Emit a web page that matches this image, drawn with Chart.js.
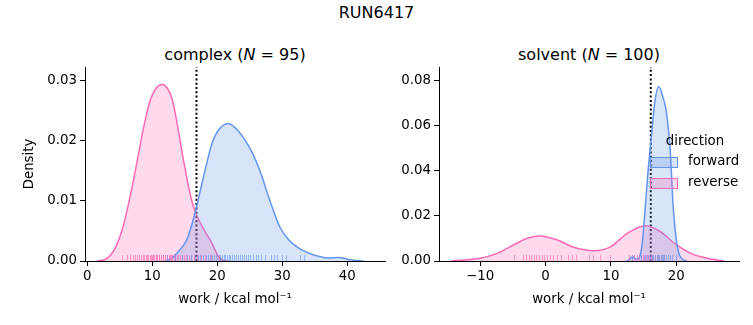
<!DOCTYPE html>
<html>
<head>
<meta charset="utf-8">
<script src="https://cdn.jsdelivr.net/npm/chart.js@4.4.1/dist/chart.umd.min.js"></script>
<style>
  html, body { margin:0; padding:0; background:#fff; }
  #wrap { position:relative; width:753px; height:325px; overflow:hidden; font-family:'DejaVu Sans', sans-serif; color:#000; }
  canvas { position:absolute; top:0; }
  .ttl { position:absolute; font-size:16px; line-height:19px; text-align:center; white-space:nowrap; }
</style>
</head>
<body>
<div id="wrap">
  <div class="ttl" id="sup" style="left:0; width:753px; top:3px;">RUN6417</div>
  <div class="ttl" style="left:85px; width:300px; top:45px;">complex (<i>N</i> = 95)</div>
  <div class="ttl" style="left:439px; width:300px; top:45px;">solvent (<i>N</i> = 100)</div>
  <canvas id="c1" width="395" height="325" style="left:0"></canvas>
  <canvas id="c2" width="358" height="325" style="left:395px"></canvas>
</div>
<script>
// ---------------- data ----------------
const directions = ['forward', 'reverse'];

// complex leg: KDE curves
const complexFwdX = [12, 13, 13.8, 15.3, 16, 16.8, 17.3, 18.5, 19.2, 20.2, 21.7, 23.1, 24.9, 25.9, 26.9, 27.7, 28.6, 29.6, 31, 32.6, 34.1, 35.9, 37, 38.7, 40.5, 42.5];
const complexFwdY = [0, 0.0005, 0.0013, 0.0035, 0.0057, 0.009, 0.0113, 0.0168, 0.0196, 0.0218, 0.0229, 0.0218, 0.019, 0.0168, 0.014, 0.0113, 0.0085, 0.0057, 0.0035, 0.0021, 0.0013, 0.0007, 0.0005, 0.0006, 0.0002, 0];
const complexRevX = [1.5, 3, 4.4, 5.5, 6.7, 7.7, 8.7, 9.7, 10.6, 11.5, 12.3, 13.1, 13.9, 14.8, 15.8, 16.5, 17.7, 19.2, 20.2, 21, 22];
const complexRevY = [0, 0.0004, 0.0024, 0.0057, 0.0113, 0.0168, 0.0224, 0.0268, 0.0288, 0.0294, 0.0288, 0.0268, 0.0224, 0.0168, 0.0113, 0.0085, 0.0057, 0.0029, 0.0007, 0.0001, 0];

// solvent leg: KDE curves
const solventFwdX = [12.4, 12.8, 13.3, 13.9, 14.3, 14.65, 14.9, 15.3, 15.7, 16.2, 16.7, 17.3, 18.0, 18.5, 19.1, 19.5, 19.95, 20.4, 21.2, 21.6];
const solventFwdY = [0, 0.0006, 0.0019, 0.0008, 0.0012, 0.0049, 0.0108, 0.0256, 0.0404, 0.0553, 0.0701, 0.0775, 0.0725, 0.066, 0.0479, 0.0256, 0.0108, 0.0034, 0.0004, 0];
const solventRevX = [-14.5, -10, -7.4, -4.9, -2.8, -0.8, 1.8, 4.3, 7.4, 10.0, 12.5, 15.3, 17.6, 19.7, 22.2, 24.8, 27.3];
const solventRevY = [0, 0.0012, 0.0034, 0.0071, 0.0101, 0.0111, 0.0093, 0.0061, 0.0046, 0.0064, 0.0123, 0.0157, 0.013, 0.0079, 0.0034, 0.0012, 0];

// rug (individual work values)
const complexRevRug = [5.3, 6.1, 6.6, 7.0, 7.4, 7.7, 8.0, 8.3, 8.5, 8.8, 9.0, 9.2, 9.4, 9.6, 9.8, 10.0, 10.1, 10.3, 10.5, 10.6, 10.8, 11.0, 11.1, 11.3, 11.4, 11.6, 11.7, 11.9, 12.0, 12.2, 12.3, 12.5, 12.7, 12.9, 13.1, 13.3, 13.5, 13.8, 14.0, 14.3, 14.6, 14.9, 15.2, 15.6, 16.0, 16.4, 16.9, 17.5, 18.1, 19.0, 20.2];
const complexFwdRug = [12.3, 13.5, 14.6, 15.4, 16.0, 16.5, 17.0, 17.4, 17.8, 18.2, 18.5, 18.9, 19.2, 19.5, 19.8, 20.1, 20.4, 20.7, 21.0, 21.2, 21.5, 21.8, 22.0, 22.3, 22.6, 22.9, 23.2, 23.5, 23.8, 24.1, 24.4, 24.8, 25.1, 25.5, 25.9, 26.3, 26.8, 27.3, 28.2, 28.7, 29.2, 29.9, 30.5, 32.8, 33.4];
const solventRevRug = [-4.9, -3.5, -3.0, -2.6, -2.2, -1.8, -1.4, -1.0, -0.6, -0.2, 0.2, 0.7, 1.2, 1.8, 2.3, 3.4, 4.1, 4.7, 6.6, 7.2, 8.4, 9.9, 12.7, 13.2, 13.6, 14.0, 14.3, 14.6, 14.9, 15.2, 15.5, 15.8, 16.1, 16.4, 16.8, 17.2, 17.7, 18.1];
const solventFwdRug = [13.2, 14.6, 15.0, 15.4, 15.7, 16.0, 16.3, 16.5, 16.8, 17.0, 17.2, 17.4, 17.6, 17.8, 18.0, 18.2, 18.4, 18.7, 19.0, 19.4, 19.9];

// free energy estimates (dotted lines)
const complexDG = 16.8;
const solventDG = 16.1;

// axes ranges and ticks
const complexXRange = [-0.35, 45.8];
const complexYMax = 0.0323;
const complexXTicks = [0, 10, 20, 30, 40];
const complexYTicks = [0, 0.01, 0.02, 0.03];
const solventXRange = [-16.3, 29.6];
const solventYMax = 0.0862;
const solventXTicks = [-10, 0, 10, 20];
const solventYTicks = [0, 0.02, 0.04, 0.06, 0.08];

// ---------------- style ----------------
const BLUE = '#6495ED', BLUE_FILL = 'rgba(100,149,237,0.25)', BLUE_RUG = 'rgba(100,149,237,0.6)';
const PINK = '#FF69B4', PINK_FILL = 'rgba(255,105,180,0.25)', PINK_RUG = 'rgba(255,105,180,0.65)';
const FONT = "'DejaVu Sans', sans-serif";
Chart.defaults.font.family = FONT;
Chart.defaults.font.size = 13.33;
Chart.defaults.color = '#000';

const pts = (xs, ys) => xs.map((x, i) => ({ x: x, y: ys[i] }));

const rugPlugin = {
  id: 'rug',
  afterDatasetsDraw(chart, args, opts) {
    const ctx = chart.ctx, xs = chart.scales.x, bottom = chart.chartArea.bottom;
    ctx.save();
    ctx.lineWidth = 1;
    for (const set of opts.sets || []) {
      ctx.strokeStyle = set.color;
      for (const v of set.values) {
        const px = Math.round(xs.getPixelForValue(v)) + 0.5;
        ctx.beginPath();
        ctx.moveTo(px, bottom);
        ctx.lineTo(px, bottom - 6);
        ctx.stroke();
      }
    }
    ctx.restore();
  }
};

const legendPlugin = {
  id: 'hueLegend',
  afterDraw(chart, args, opts) {
    if (!opts.show) return;
    const ctx = chart.ctx;
    ctx.save();
    ctx.font = "13.33px " + FONT;
    ctx.fillStyle = '#000';
    ctx.textBaseline = 'middle';
    ctx.textAlign = 'center';
    ctx.fillText('direction', opts.x + 45, opts.y);
    const items = [[directions[0], BLUE, BLUE_FILL], [directions[1], PINK, PINK_FILL]];
    items.forEach((it, i) => {
      const y = opts.y + 20 + i * 21;
      ctx.fillStyle = it[2];
      ctx.fillRect(opts.x, y - 5, 27, 10);
      ctx.strokeStyle = it[1];
      ctx.lineWidth = 1;
      ctx.strokeRect(opts.x + 0.5, y - 4.5, 27, 10);
      ctx.fillStyle = '#000';
      ctx.textAlign = 'left';
      ctx.fillText(it[0], opts.x + 38, y);
    });
    ctx.restore();
  }
};

function makeChart(id, cfg) {
  const curve = (label, xs, ys, line, fillc) => ({
    label, data: pts(xs, ys), borderColor: line, backgroundColor: fillc, fill: 'origin',
    borderWidth: 1.5, pointRadius: 0, cubicInterpolationMode: 'monotone'
  });
  return new Chart(document.getElementById(id), {
    type: 'line',
    data: {
      datasets: [
        curve(directions[0], cfg.fwdX, cfg.fwdY, BLUE, BLUE_FILL),
        curve(directions[1], cfg.revX, cfg.revY, PINK, PINK_FILL),
        { label: 'dG', data: [{ x: cfg.dg, y: 0 }, { x: cfg.dg, y: cfg.yMax }], borderColor: '#000',
          borderWidth: 2, borderDash: [2, 2.3], pointRadius: 0, fill: false }
      ]
    },
    options: {
      responsive: false, animation: false, events: [],
      layout: { padding: { left: 0, right: cfg.padRight, top: 67, bottom: 0 } },
      plugins: {
        legend: { display: false }, tooltip: { enabled: false },
        rug: { sets: [ { values: cfg.revRug, color: PINK_RUG }, { values: cfg.fwdRug, color: BLUE_RUG } ] },
        hueLegend: cfg.legend || { show: false }
      },
      scales: {
        x: {
          type: 'linear', min: cfg.xRange[0], max: cfg.xRange[1],
          afterFit: s => { s.height = 64; },
          afterBuildTicks: s => { s.ticks = cfg.xTicks.map(v => ({ value: v })); },
          ticks: { padding: 3, maxRotation: 0, callback: v => String(v).replace('-', '\u2212') },
          grid: { display: true, drawOnChartArea: false, drawTicks: true, tickLength: 5, color: '#000', lineWidth: 1 },
          border: { display: true, color: '#000', width: 1 },
          title: { display: true, text: 'work / kcal mol\u207B\u00B9', padding: { top: 0, bottom: 17 }, font: { size: 13.33 } }
        },
        y: {
          type: 'linear', min: 0, max: cfg.yMax,
          afterFit: s => { s.width = cfg.yWidth; },
          afterBuildTicks: s => { s.ticks = cfg.yTicks.map(v => ({ value: v })); },
          ticks: { padding: 3, callback: v => Number(v).toFixed(2) },
          grid: { display: true, drawOnChartArea: false, drawTicks: true, tickLength: 5, color: '#000', lineWidth: 1 },
          border: { display: true, color: '#000', width: 1 },
          title: { display: cfg.yTitle, text: 'Density', padding: { top: 22, bottom: 0 }, font: { size: 13.33 } }
        }
      }
    },
    plugins: [rugPlugin, legendPlugin]
  });
}

makeChart('c1', {
  fwdX: complexFwdX, fwdY: complexFwdY, revX: complexRevX, revY: complexRevY,
  fwdRug: complexFwdRug, revRug: complexRevRug, dg: complexDG,
  xRange: complexXRange, yMax: complexYMax, xTicks: complexXTicks, yTicks: complexYTicks,
  yWidth: 85, padRight: 10, yTitle: true
});
makeChart('c2', {
  fwdX: solventFwdX, fwdY: solventFwdY, revX: solventRevX, revY: solventRevY,
  fwdRug: solventFwdRug, revRug: solventRevRug, dg: solventDG,
  xRange: solventXRange, yMax: solventYMax, xTicks: solventXTicks, yTicks: solventYTicks,
  yWidth: 44, padRight: 14, yTitle: false,
  legend: { show: true, x: 255, y: 142 }
});
</script>
</body>
</html>
